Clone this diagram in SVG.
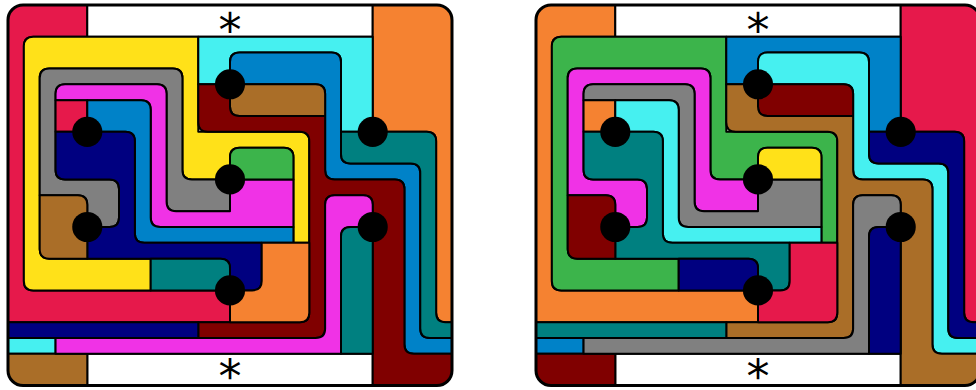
<svg xmlns="http://www.w3.org/2000/svg" xmlns:xlink="http://www.w3.org/1999/xlink" width="976" height="390" viewBox="0 0 976 390">
<style>
.t{stroke:#000;stroke-width:0.126;stroke-linejoin:round}
.frame{fill:none;stroke:#000;stroke-width:0.19}
.dot{fill:#000}
.ast{font-family:"DejaVu Sans",sans-serif;font-size:46px;text-anchor:middle;fill:#000}
</style>
<defs>
<clipPath id="clip"><rect x="0" y="0" width="28" height="24" rx="0.95"/></clipPath>
<path id="redBig" d="M0 0 H5 V2 H1.6 Q1 2 1 2.6 V17.4 Q1 18 1.6 18 H14 V20 H0 Z"/>
<path id="whiteTop" d="M5 0 H23 V2 H5 Z"/>
<path id="whiteBot" d="M5 22 H23 V24 H5 Z"/>
<path id="orangeTR" d="M23 0 H28 V20 H27.6 Q27 20 27 19.4 V8.6 Q27 8 26.4 8 H23 Z"/>
<path id="yellow" d="M1 2.6 Q1 2 1.6 2 H12 V8 H18.4 Q19 8 19 8.6 V15 H18 V9.6 Q18 9 17.4 9 H14.6 Q14 9 14 9.6 V11 H11.6 Q11 11 11 10.4 V4.6 Q11 4 10.4 4 H2.6 Q2 4 2 4.6 V15.4 Q2 16 2.6 16 H9 V18 H1.6 Q1 18 1 17.4 Z"/>
<path id="cyanTop" d="M12 2 H23 V8 H21 V3.6 Q21 3 20.4 3 H14.6 Q14 3 14 3.6 V5 H12 Z"/>
<path id="blueR" d="M14 3.6 Q14 3 14.6 3 H20.4 Q21 3 21 3.6 V9.4 Q21 10 21.6 10 H25.4 Q26 10 26 10.6 V20.4 Q26 21 26.6 21 H28 V22 H25.6 Q25 22 25 21.4 V11.6 Q25 11 24.4 11 H20.6 Q20 11 20 10.4 V5.6 Q20 5 19.4 5 H14 Z"/>
<path id="tealR" d="M21 8 H26.4 Q27 8 27 8.6 V19.4 Q27 20 27.6 20 H28 V21 H26.6 Q26 21 26 20.4 V10.6 Q26 10 25.4 10 H21.6 Q21 10 21 9.4 Z"/>
<path id="brownTop" d="M14 5 H19.4 Q20 5 20 5.6 V7 H14.6 Q14 7 14 6.4 Z"/>
<path id="maroon" d="M12 5 H14 V6.4 Q14 7 14.6 7 H20 V10.4 Q20 11 20.6 11 H24.4 Q25 11 25 11.6 V21.4 Q25 22 25.6 22 H28 V24 H23 V12.6 Q23 12 22.4 12 H20.6 Q20 12 20 12.6 V20.4 Q20 21 19.4 21 H12 V20 H18.4 Q19 20 19 19.4 V8.6 Q19 8 18.4 8 H12.6 Q12 8 12 7.4 Z"/>
<path id="gray" d="M2 4.6 Q2 4 2.6 4 H10.4 Q11 4 11 4.6 V10.4 Q11 11 11.6 11 H14 V13 H10.6 Q10 13 10 12.4 V5.6 Q10 5 9.4 5 H3.6 Q3 5 3 5.6 V10.4 Q3 11 3.6 11 H6.4 Q7 11 7 11.6 V13.4 Q7 14 6.4 14 H5 V12.6 Q5 12 4.4 12 H2 Z"/>
<path id="magentaUL" d="M3 5.6 Q3 5 3.6 5 H9.4 Q10 5 10 5.6 V12.4 Q10 13 10.6 13 H14 V11 H18 V14 H9.6 Q9 14 9 13.4 V6.6 Q9 6 8.4 6 H3 Z"/>
<path id="green" d="M14 9.6 Q14 9 14.6 9 H17.4 Q18 9 18 9.6 V11 H14 Z"/>
<path id="redSq" d="M3 6 H5 V8 H3 Z"/>
<path id="blueL" d="M5 6 H8.4 Q9 6 9 6.6 V13.4 Q9 14 9.6 14 H18 V15 H8.6 Q8 15 8 14.4 V8.6 Q8 8 7.4 8 H5 Z"/>
<path id="navyL" d="M3 8 H7.4 Q8 8 8 8.6 V14.4 Q8 15 8.6 15 H16 V17.4 Q16 18 15.4 18 H14 V16.6 Q14 16 13.4 16 H5 V14 H6.4 Q7 14 7 13.4 V11.6 Q7 11 6.4 11 H3.6 Q3 11 3 10.4 Z"/>
<path id="brownL" d="M2 12 H4.4 Q5 12 5 12.6 V16 H2.6 Q2 16 2 15.4 Z"/>
<path id="tealL" d="M9 16 H13.4 Q14 16 14 16.6 V18 H9 Z"/>
<path id="orangeM" d="M16 15 H19 V19.4 Q19 20 18.4 20 H14 V18 H15.4 Q16 18 16 17.4 Z"/>
<path id="navyB" d="M0 20 H12 V21 H0 Z"/>
<path id="cyanB" d="M0 21 H3 V22 H0 Z"/>
<path id="brownB" d="M0 22 H5 V24 H0 Z"/>
<path id="magentaLR" d="M20 12.6 Q20 12 20.6 12 H22.4 Q23 12 23 12.6 V14 H21.6 Q21 14 21 14.6 V22 H3 V21 H19.4 Q20 21 20 20.4 Z"/>
<path id="tealLR" d="M21 14.6 Q21 14 21.6 14 H23 V22 H21 Z"/>
<g id="dots">
<circle class="dot" cx="5" cy="8" r="0.95"/>
<circle class="dot" cx="5" cy="14" r="0.95"/>
<circle class="dot" cx="14" cy="5" r="0.95"/>
<circle class="dot" cx="14" cy="11" r="0.95"/>
<circle class="dot" cx="14" cy="18" r="0.95"/>
<circle class="dot" cx="23" cy="8" r="0.95"/>
<circle class="dot" cx="23" cy="14" r="0.95"/>
</g>
</defs>

<g id="panel1" transform="translate(8 5) scale(15.857)">
<g clip-path="url(#clip)" class="t">
<use href="#redBig" fill="#e6194b"/>
<use href="#whiteTop" fill="#ffffff"/>
<use href="#whiteBot" fill="#ffffff"/>
<use href="#orangeTR" fill="#f58231"/>
<use href="#yellow" fill="#ffe119"/>
<use href="#cyanTop" fill="#46f0f0"/>
<use href="#blueR" fill="#0082c8"/>
<use href="#tealR" fill="#008080"/>
<use href="#brownTop" fill="#aa6e28"/>
<use href="#maroon" fill="#800000"/>
<use href="#gray" fill="#808080"/>
<use href="#magentaUL" fill="#f032e6"/>
<use href="#green" fill="#3cb44b"/>
<use href="#redSq" fill="#e6194b"/>
<use href="#blueL" fill="#0082c8"/>
<use href="#navyL" fill="#000080"/>
<use href="#brownL" fill="#aa6e28"/>
<use href="#tealL" fill="#008080"/>
<use href="#orangeM" fill="#f58231"/>
<use href="#navyB" fill="#000080"/>
<use href="#cyanB" fill="#46f0f0"/>
<use href="#brownB" fill="#aa6e28"/>
<use href="#magentaLR" fill="#f032e6"/>
<use href="#tealLR" fill="#008080"/>
</g>
<use href="#dots"/>
<rect class="frame" x="0" y="0" width="28" height="24" rx="0.95"/>
</g>

<g id="panel2" transform="translate(536 5) scale(15.857)">
<g clip-path="url(#clip)" class="t">
<use href="#redBig" fill="#f58231"/>
<use href="#whiteTop" fill="#ffffff"/>
<use href="#whiteBot" fill="#ffffff"/>
<use href="#orangeTR" fill="#e6194b"/>
<use href="#yellow" fill="#3cb44b"/>
<use href="#cyanTop" fill="#0082c8"/>
<use href="#blueR" fill="#46f0f0"/>
<use href="#tealR" fill="#000080"/>
<use href="#brownTop" fill="#800000"/>
<use href="#maroon" fill="#aa6e28"/>
<use href="#gray" fill="#f032e6"/>
<use href="#magentaUL" fill="#808080"/>
<use href="#green" fill="#ffe119"/>
<use href="#redSq" fill="#f58231"/>
<use href="#blueL" fill="#46f0f0"/>
<use href="#navyL" fill="#008080"/>
<use href="#brownL" fill="#800000"/>
<use href="#tealL" fill="#000080"/>
<use href="#orangeM" fill="#e6194b"/>
<use href="#navyB" fill="#008080"/>
<use href="#cyanB" fill="#0082c8"/>
<use href="#brownB" fill="#800000"/>
<use href="#magentaLR" fill="#808080"/>
<use href="#tealLR" fill="#000080"/>
</g>
<use href="#dots"/>
<rect class="frame" x="0" y="0" width="28" height="24" rx="0.95"/>
</g>

<g id="labels">
<text class="ast" x="230" y="46">*</text>
<text class="ast" x="230" y="395" transform="rotate(180 230 370)">*</text>
<text class="ast" x="758" y="46">*</text>
<text class="ast" x="758" y="395" transform="rotate(180 758 370)">*</text>
</g>
</svg>
